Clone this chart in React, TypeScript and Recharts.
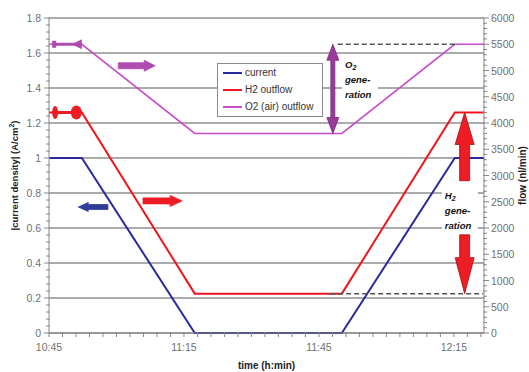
import React from 'react'
import {
  LineChart, Line, XAxis, YAxis, CartesianGrid,
  ReferenceLine, ReferenceDot, Legend,
} from 'recharts'

// time is kept as minutes after 10:45
const minutes = [0, 7.3, 32.4, 65.1, 90.2, 96.7]
const currentDensity = [1, 1, 0, 0, 1, 1]          // A/cm2, left axis
const h2Outflow = [4200, 4200, 750, 750, 4200, 4200] // nl/min, right axis
const o2Outflow = [5500, 5500, 3800, 3800, 5500, 5500]

const seriesNames = ['current', 'H2 outflow', 'O2 (air) outflow']
const seriesColors = ['#2a2a9c', '#f0141c', '#c64ec6']

const timeTicks = [0, 30, 60, 90]
const timeLabels = ['10:45', '11:15', '11:45', '12:15']
const leftTicks = [0, 0.2, 0.4, 0.6, 0.8, 1, 1.2, 1.4, 1.6, 1.8]
const leftLabels = ['0', '0.2', '0.4', '0.6', '0.8', '1', '1.2', '1.4', '1.6', '1.8']
const rightTicks = [0, 500, 1000, 1500, 2000, 2500, 3000, 3500, 4000, 4500, 5000, 5500, 6000]
const rightLabels = ['0', '500', '1000', '1500', '2000', '2500', '3000', '3500', '4000', '4500', '5000', '5500', '6000']

// minor tick marks (no labels)
const timeMinor = Array.from({ length: 33 }, (_, i) => i * 3)
const leftMinor = Array.from({ length: 46 }, (_, i) => Math.round(i * 4) / 100)
const rightMinor = Array.from({ length: 61 }, (_, i) => i * 100)

// dashed guide levels on the flow axis
const o2TopLevel = 5500
const h2BottomLevel = 750

const FONT = 'Arial, "Liberation Sans", Helvetica, sans-serif'
const PURPLE = '#b04cb0'
const PURPLE_DARK = '#9a3a9a'
const RED = '#ee1c24'
const BLUE = '#2f3d99'

const data = minutes.map((m, i) => ({
  t: m,
  current: currentDensity[i],
  h2: h2Outflow[i],
  o2: o2Outflow[i],
}))

function arrowPoints(x1: number, y1: number, x2: number, y2: number,
  shaft: number, head: number, headLen: number, double = false) {
  const len = Math.hypot(x2 - x1, y2 - y1) || 1
  const ux = (x2 - x1) / len, uy = (y2 - y1) / len
  const nx = -uy, ny = ux
  const s = shaft / 2, h = head / 2
  const P = (px: number, py: number, off: number) => `${px + nx * off},${py + ny * off}`
  const bx = x2 - ux * headLen, by = y2 - uy * headLen
  if (!double) {
    return [P(x1, y1, s), P(bx, by, s), P(bx, by, h), `${x2},${y2}`, P(bx, by, -h), P(bx, by, -s), P(x1, y1, -s)].join(' ')
  }
  const ax = x1 + ux * headLen, ay = y1 + uy * headLen
  return [`${x1},${y1}`, P(ax, ay, h), P(ax, ay, s), P(bx, by, s), P(bx, by, h), `${x2},${y2}`,
    P(bx, by, -h), P(bx, by, -s), P(ax, ay, -s), P(ax, ay, -h)].join(' ')
}

const arrowShape = (color: string, edge: string, shaft: number, head: number, headLen: number, double = false) =>
  (p: any) => (
    <polygon
      points={arrowPoints(p.x1, p.y1, p.x2, p.y2, shaft, head, headLen, double)}
      fill={color} stroke={edge} strokeWidth={0.8}
    />
  )

const purpleMarker = (p: any) => (
  <g>
    <line x1={p.x1} x2={p.x2} y1={p.y1} y2={p.y1} stroke={PURPLE} strokeWidth={3} />
    <rect x={p.x1} y={p.y1 - 3.5} width={4} height={7} fill={PURPLE} />
    <polygon points={`${p.x2 - 10},${p.y1} ${p.x2},${p.y1 - 5} ${p.x2},${p.y1 + 5}`} fill={PURPLE} />
  </g>
)

const redMarker = (p: any) => (
  <g>
    <line x1={p.x1} x2={p.x2} y1={p.y1} y2={p.y1} stroke={RED} strokeWidth={3} />
    <ellipse cx={p.x1 + 3} cy={p.y1} rx={3} ry={6.5} fill={RED} />
    <ellipse cx={p.x2 - 5.5} cy={p.y1} rx={5.5} ry={7} fill={RED} />
  </g>
)

const noteShape = (first: string) => (p: any) => (
  <g>
    <rect x={p.cx - 3} y={p.cy - 11} width={36} height={44} fill="#fff" />
    <text x={p.cx} y={p.cy} fontFamily={FONT} fontSize={9.5} fontWeight={900} fontStyle="italic" fill="#111">
      <tspan>{first}</tspan><tspan fontSize={7} dy={2}>2</tspan>
      <tspan x={p.cx} dy={13}>gene-</tspan>
      <tspan x={p.cx} dy={15}>ration</tspan>
    </text>
  </g>
)

const TimeTick = ({ x, y, payload }: any) => {
  const i = timeTicks.indexOf(payload.value)
  return (
    <g>
      <line x1={x} x2={x} y1={y - 1} y2={y + 4} stroke="#888" />
      {i >= 0 && (
        <text x={x} y={y + 18} textAnchor="middle" fontFamily={FONT} fontSize={10.5} fill="#707070">{timeLabels[i]}</text>
      )}
    </g>
  )
}

const LeftTick = ({ x, y, payload }: any) => {
  const i = leftTicks.findIndex((v) => Math.abs(v - payload.value) < 1e-6)
  return (
    <g>
      <line x1={x - (i >= 0 ? 5 : 3)} x2={x + 1} y1={y} y2={y} stroke="#888" />
      {i >= 0 && (
        <text x={x - 8} y={y + 4} textAnchor="end" fontFamily={FONT} fontSize={10.5} fill="#707070">{leftLabels[i]}</text>
      )}
    </g>
  )
}

const RightTick = ({ x, y, payload }: any) => {
  const i = rightTicks.indexOf(payload.value)
  return (
    <g>
      <line x1={x - 1} x2={x + (i >= 0 ? 5 : 3)} y1={y} y2={y} stroke="#888" />
      {i >= 0 && (
        <text x={x + 7} y={y + 4} textAnchor="start" fontFamily={FONT} fontSize={10.5} fill="#707070">{rightLabels[i]}</text>
      )}
    </g>
  )
}

const leftTitle = (props: any) => {
  const vb = props.viewBox ?? { x: 0, y: 18, width: 49, height: 315 }
  const cx = vb.x + 15
  const cy = vb.y + vb.height / 2
  return (
    <text x={cx} y={cy} transform={`rotate(-90 ${cx} ${cy})`} textAnchor="middle"
      fontFamily={FONT} fontSize={9.5} fontWeight="bold" fill="#222" dy={3}>
      |current density| (A/cm<tspan fontSize={7} dy={-4}>2</tspan><tspan dy={4}>)</tspan>
    </text>
  )
}

const rightTitle = (props: any) => {
  const vb = props.viewBox ?? { x: 484, y: 18, width: 45, height: 315 }
  const cx = vb.x + 39
  const cy = vb.y + vb.height / 2
  return (
    <text x={cx} y={cy} transform={`rotate(-90 ${cx} ${cy})`} textAnchor="middle"
      fontFamily={FONT} fontSize={10} fontWeight="bold" fill="#222" dy={3}>
      flow (nl/min)
    </text>
  )
}

const timeTitle = (props: any) => {
  const vb = props.viewBox ?? { x: 49, y: 333, width: 435, height: 39 }
  return (
    <text x={vb.x + vb.width / 2} y={vb.y + 36} textAnchor="middle"
      fontFamily={FONT} fontSize={10} fontWeight="bold" fill="#222">
      time (h:min)
    </text>
  )
}

const LegendBox = () => (
  <div style={{
    width: 104, height: 52, border: '1px solid #8a8a8a', background: '#fff',
    fontFamily: FONT, fontSize: 10, color: '#333',
  }}>
    {seriesNames.map((n, i) => (
      <div key={n} style={{ display: 'flex', alignItems: 'center', height: 17 }}>
        <span style={{ display: 'inline-block', width: 19, height: 2, background: seriesColors[i], marginLeft: 5, marginRight: 3 }} />
        <span>{n}</span>
      </div>
    ))}
  </div>
)

export default function App() {
  return (
    <div style={{ position: 'absolute', left: 0, top: 0, width: 529, height: 372, background: '#fff' }}>
      <LineChart width={529} height={372} data={data} margin={{ top: 18, right: 0, bottom: 0, left: 0 }}>
        <CartesianGrid yAxisId="left" vertical={false} horizontalValues={leftTicks} stroke="#8f8f8f" strokeWidth={1.6} />
        <XAxis
          dataKey="t" type="number" domain={[0, 96.7]} ticks={timeMinor} interval={0}
          height={39} tickSize={0} tickMargin={0} tickLine={false}
          axisLine={{ stroke: '#888' }} tick={<TimeTick />} label={timeTitle}
        />
        <YAxis
          yAxisId="left" domain={[0, 1.8]} ticks={leftMinor} interval={0} width={49}
          tickSize={0} tickMargin={0} tickLine={false}
          axisLine={{ stroke: '#888' }} tick={<LeftTick />} label={leftTitle}
        />
        <YAxis
          yAxisId="right" orientation="right" domain={[0, 6000]} ticks={rightMinor} interval={0} width={45}
          tickSize={0} tickMargin={0} tickLine={false}
          axisLine={{ stroke: '#888' }} tick={<RightTick />} label={rightTitle}
        />
        <Legend layout="vertical" align="center" verticalAlign="middle"
          wrapperStyle={{ left: 217, top: 63, width: 106, height: 54 }} content={LegendBox} />

        <Line yAxisId="right" dataKey="o2" name={seriesNames[2]} stroke={seriesColors[2]} strokeWidth={1.7} dot={false} isAnimationActive={false} />
        <Line yAxisId="right" dataKey="h2" name={seriesNames[1]} stroke={seriesColors[1]} strokeWidth={2} dot={false} isAnimationActive={false} />
        <Line yAxisId="left" dataKey="current" name={seriesNames[0]} stroke={seriesColors[0]} strokeWidth={2} dot={false} isAnimationActive={false} />

        {/* dashed guide lines */}
        <ReferenceLine yAxisId="right" segment={[{ x: 64.2, y: o2TopLevel }, { x: 90.2, y: o2TopLevel }]}
          stroke="#555" strokeWidth={1.5} strokeDasharray="5 3" />
        <ReferenceLine yAxisId="right" segment={[{ x: 62.5, y: h2BottomLevel }, { x: 96.5, y: h2BottomLevel }]}
          stroke="#555" strokeWidth={1.5} strokeDasharray="5 3" />

        {/* start markers */}
        <ReferenceLine yAxisId="right" segment={[{ x: 0.7, y: 5500 }, { x: 7.3, y: 5500 }]} shape={purpleMarker} />
        <ReferenceLine yAxisId="right" segment={[{ x: 0.7, y: 4200 }, { x: 7.3, y: 4200 }]} shape={redMarker} />

        {/* axis pointer arrows */}
        <ReferenceLine yAxisId="right" segment={[{ x: 15.4, y: 5090 }, { x: 23.6, y: 5090 }]}
          shape={arrowShape(PURPLE, PURPLE, 6, 11, 11)} />
        <ReferenceLine yAxisId="left" segment={[{ x: 13.1, y: 0.72 }, { x: 6.5, y: 0.72 }]}
          shape={arrowShape(BLUE, BLUE, 5, 9, 10)} />
        <ReferenceLine yAxisId="left" segment={[{ x: 20.9, y: 0.755 }, { x: 29.6, y: 0.755 }]}
          shape={arrowShape(RED, RED, 6, 11, 12)} />

        {/* generation arrows */}
        <ReferenceLine yAxisId="right" segment={[{ x: 63.1, y: 5500 }, { x: 63.1, y: 3800 }]}
          shape={arrowShape(PURPLE_DARK, '#7a2a7a', 4, 12, 16, true)} />
        <ReferenceLine yAxisId="right" segment={[{ x: 92.4, y: 2900 }, { x: 92.4, y: 4200 }]}
          shape={arrowShape(RED, '#a01010', 10, 19, 32)} />
        <ReferenceLine yAxisId="right" segment={[{ x: 92.4, y: 1870 }, { x: 92.4, y: 750 }]}
          shape={arrowShape(RED, '#a01010', 10, 19, 36)} />

        <ReferenceDot yAxisId="right" x={65.8} y={5048} r={0} shape={noteShape('O')} />
        <ReferenceDot yAxisId="right" x={88.0} y={2552} r={0} shape={noteShape('H')} />
      </LineChart>
    </div>
  )
}
